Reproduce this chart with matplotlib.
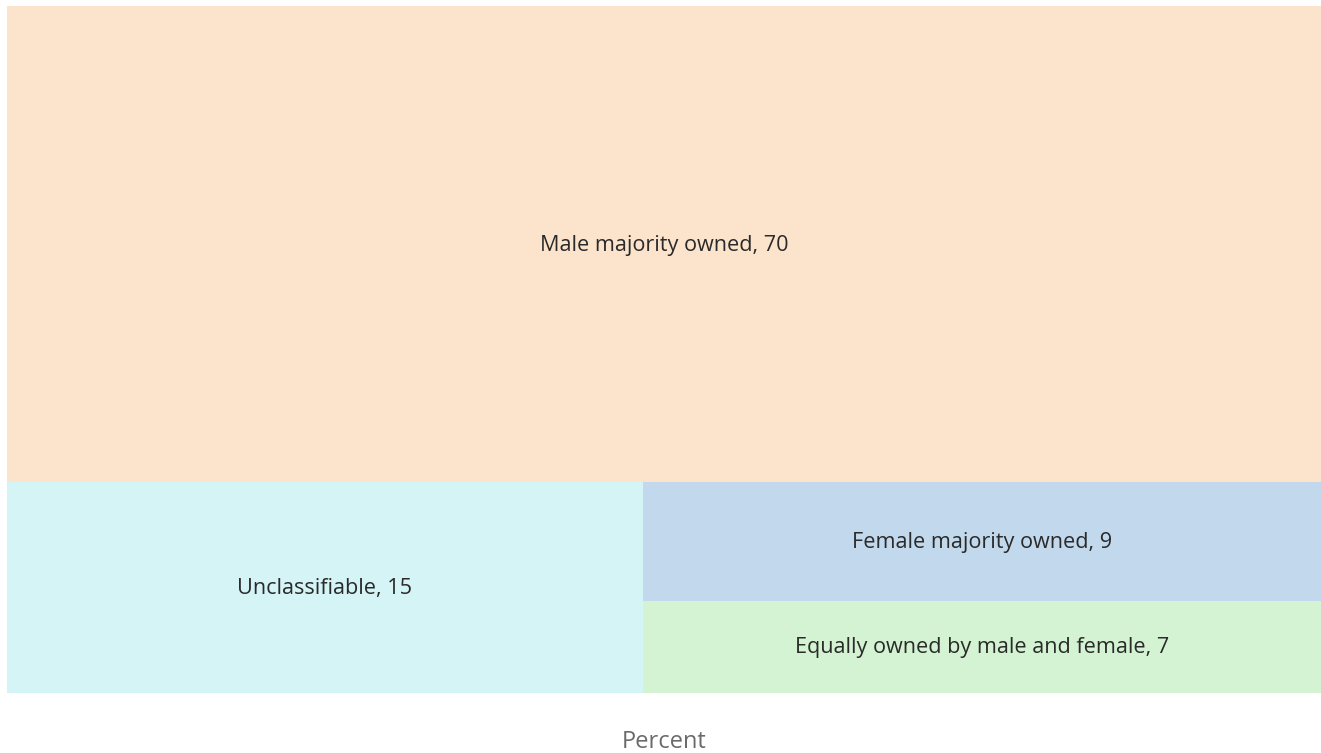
import matplotlib
matplotlib.use("Agg")
import matplotlib.pyplot as plt
from matplotlib.patches import Rectangle

labels = ["Male majority owned", "Unclassifiable", "Female majority owned",
          "Equally owned by male and female"]
values = [70, 15, 9, 7]
colors = ["#fce4cc", "#d4f4f6", "#c2d8ec", "#d3f3d3"]


def layout(vals, x, y, w, h, horizontal=True):
    # peel off the first value, alternating the split direction
    if not vals:
        return []
    if len(vals) == 1:
        return [(x, y, w, h)]
    frac = vals[0] / sum(vals)
    if horizontal:
        hh = h * frac
        first = (x, y + h - hh, w, hh)
        rest = layout(vals[1:], x, y, w, h - hh, not horizontal)
    else:
        ww = w * frac
        first = (x, y, ww, h)
        rest = layout(vals[1:], x + ww, y, w - ww, h, not horizontal)
    return [first] + rest


W, H = 1321, 753
fig = plt.figure(figsize=(W / 100, H / 100), dpi=100)
ax = fig.add_axes([7 / W, (H - 693) / H, (1321 - 7) / W, (693 - 6) / H])
ax.set_xlim(0, 1)
ax.set_ylim(0, 1)
ax.axis("off")

rects = layout(values, 0, 0, 1, 1)
for (rx, ry, rw, rh), lab, val, col in zip(rects, labels, values, colors):
    ax.add_patch(Rectangle((rx, ry), rw, rh, facecolor=col, edgecolor="none"))
    ax.text(rx + rw / 2, ry + rh / 2 - 0.0015, f"{lab}, {val}", ha="center", va="center",
            fontsize=15.6, family="Open Sans", color="#2a2a2a")

fig.text((7 + 1321) / 2 / W, 1 - 742 / H, "Percent", ha="center", va="center",
         fontsize=17, family="Open Sans", color="#6a6a6a")

fig.savefig("out.png", dpi=100)
